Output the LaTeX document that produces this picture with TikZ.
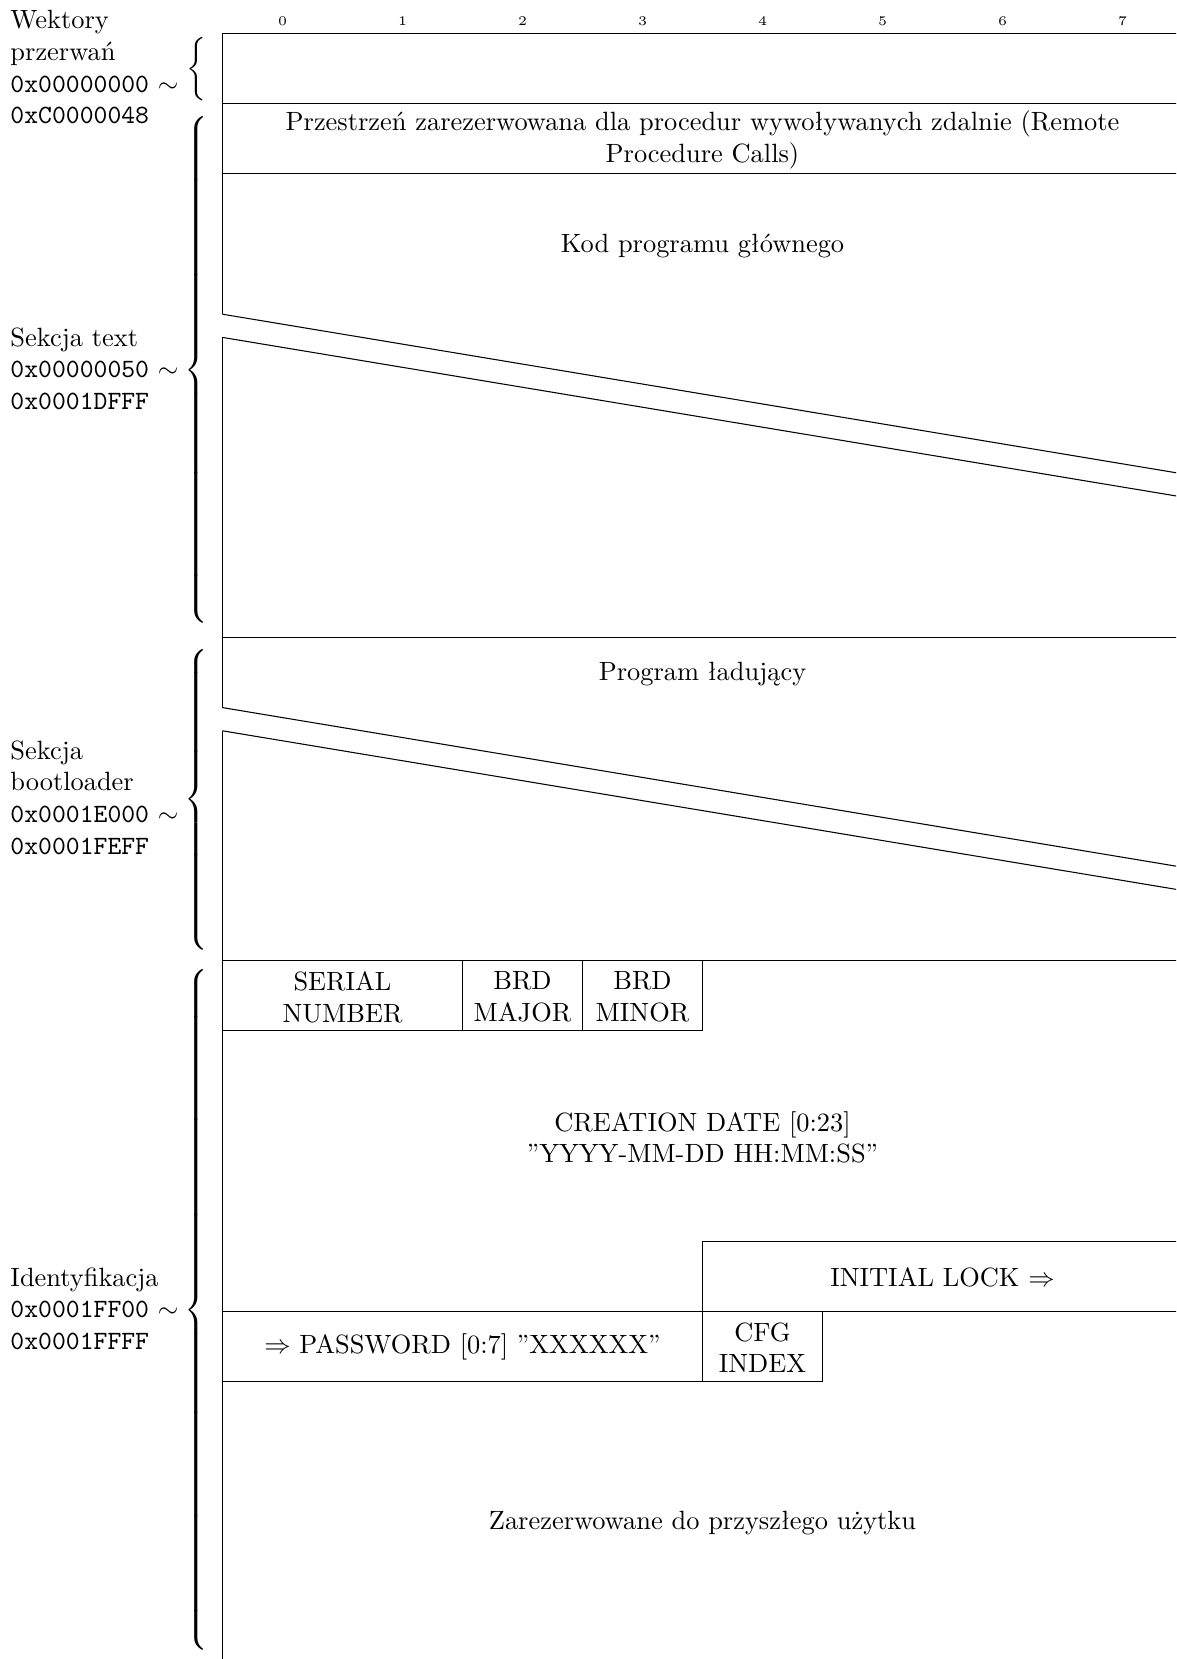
\documentclass[tikz,border=0pt]{standalone}
\newcommand\membrace[1]{$\delimiterfactor=1000\delimitershortfall=0pt\nulldelimiterspace=0pt\left\{\vcenter{\hrule height #1 width 0pt}\right.$}
\begin{document}
\begin{tikzpicture}[x=0.378788pt,y=-0.378788pt,
  every node/.style={inner sep=0pt, outer sep=0pt},
  field/.style={line width=0.4pt},
  lbl/.style={align=center},
  side/.style={align=left, anchor=west},
  bitnum/.style={font=\tiny}]
\useasboundingbox (0,0) rectangle (1176,1659);
\clip (0,0) rectangle (1176,1659);
% bit header
\foreach \k in {0,...,7}{
  \node[bitnum] (bit\k) at ({282.5+120*\k},21) {\k};
}
% text section
\draw[field] (222.5,33.4) -- (1182.5,33.4);
\draw[field] (222.5,103.6) -- (1182.5,103.6);
\draw[field] (222.5,173.8) -- (1182.5,173.8);
\draw[field] (222.5,33.4) -- (222.5,314.2);
\draw[field] (222.5,314.2) -- (1182.5,473.8);
\draw[field] (222.5,337.4) -- (1182.5,497.0);
\draw[field] (222.5,337.4) -- (222.5,637.4);
% bootloader section
\draw[field] (222.5,637.4) -- (1182.5,637.4);
\draw[field] (222.5,637.4) -- (222.5,707.6);
\draw[field] (222.5,707.6) -- (1182.5,867.2);
\draw[field] (222.5,730.8) -- (1182.5,890.4);
\draw[field] (222.5,730.8) -- (222.5,1665);
% identification section
\draw[field] (222.5,960.6) -- (1182.5,960.6);
\draw[field] (222.5,1030.8) -- (702.5,1030.8);
\draw[field] (462.5,960.6) -- (462.5,1030.8);
\draw[field] (582.5,960.6) -- (582.5,1030.8);
\draw[field] (702.5,960.6) -- (702.5,1030.8);
\draw[field] (1182.5,1241.4) -- (702.5,1241.4) -- (702.5,1311.6);
\draw[field] (222.5,1311.6) -- (1182.5,1311.6);
\draw[field] (702.5,1311.6) -- (702.5,1381.8);
\draw[field] (822.5,1311.6) -- (822.5,1381.8);
\draw[field] (222.5,1381.8) -- (822.5,1381.8);
% field texts
\node[lbl] (rpc) at (702.5,140) {Przestrzeń zarezerwowana dla procedur wywoływanych zdalnie (Remote\\Procedure Calls)};
\node[lbl] (kod) at (702.5,245.6) {Kod programu głównego};
\node[lbl] (boot) at (702.5,673.8) {Program ładujący};
\node[lbl] (serial) at (342.5,997) {SERIAL\\NUMBER};
\node[lbl] (major) at (522.5,997) {BRD\\MAJOR};
\node[lbl] (minor) at (642.5,997) {BRD\\MINOR};
\node[lbl] (date) at (702.5,1137.3) {CREATION DATE [0:23]\\”YYYY-MM-DD HH:MM:SS”};
\node[lbl] (lock) at (942.5,1277.7) {INITIAL LOCK $\Rightarrow$};
\node[lbl] (pass) at (462.5,1347.3) {$\Rightarrow$ PASSWORD [0:7] ”XXXXXX”};
\node[lbl] (cfg) at (762.5,1347.6) {CFG\\INDEX};
\node[lbl] (res) at (702.5,1523.3) {Zarezerwowane do przyszłego użytku};
% side labels
\node[side] (lv) at (10.5,67.2) {Wektory\\przerwań\\\texttt{0x00000000} $\sim$\\\texttt{0xC0000048}};
\node[side] (lt) at (10.5,368.6) {Sekcja text\\\texttt{0x00000050} $\sim$\\\texttt{0x0001DFFF}};
\node[side] (lb) at (10.5,797.4) {Sekcja\\bootloader\\\texttt{0x0001E000} $\sim$\\\texttt{0x0001FEFF}};
\node[side] (li) at (10.5,1308.8) {Identyfikacja\\\texttt{0x0001FF00} $\sim$\\\texttt{0x0001FFFF}};
% braces
\node (bv) at (196,68.7) {\membrace{23pt}};
\node (bt) at (196,370) {\membrace{190pt}};
\node (bb) at (196,799.5) {\membrace{112pt}};
\node (bi) at (196,1310) {\membrace{256pt}};
\end{tikzpicture}
\end{document}
